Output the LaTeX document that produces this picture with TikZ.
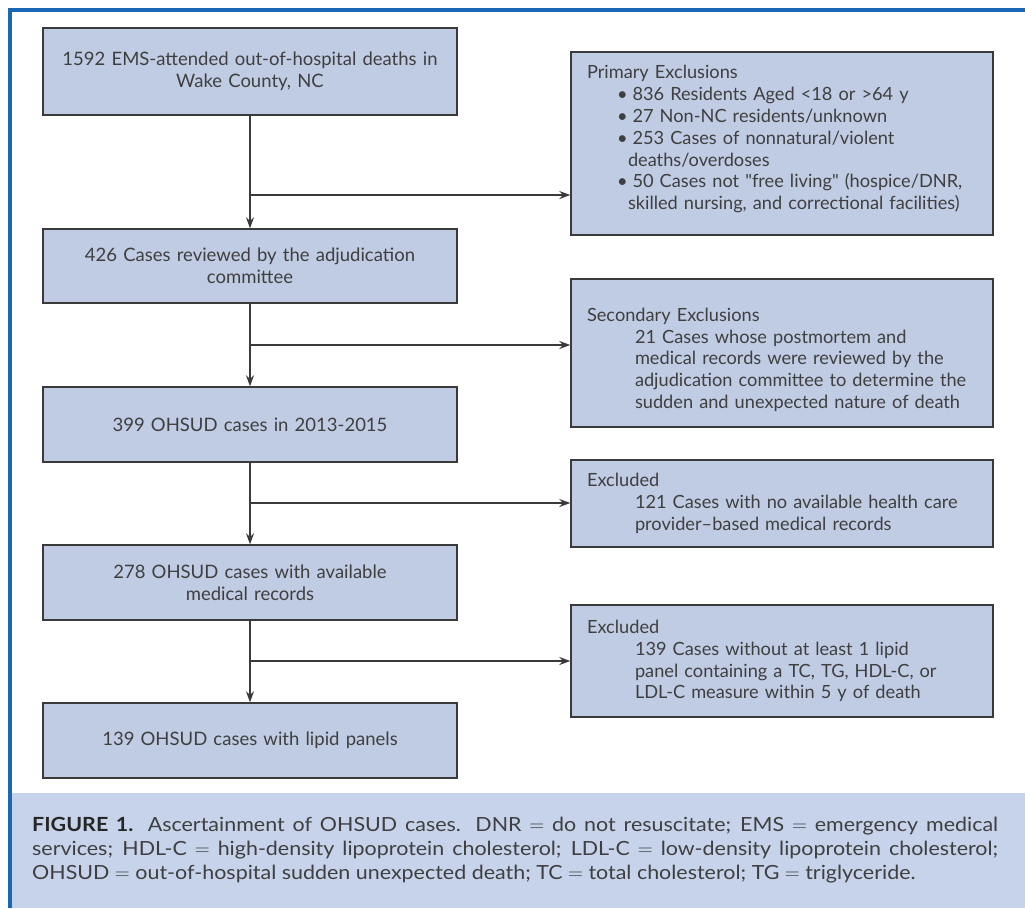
\documentclass[tikz,border=0pt]{standalone}
\usepackage{fontspec}
\setmainfont{Lato}
\newfontfamily\capfont[FakeStretch=1.1]{Lato}
\newfontfamily\rawfont[Ligatures=TeXOff]{Lato}
\usetikzlibrary{arrows.meta}
\definecolor{boxfill}{HTML}{C0CCE3}
\definecolor{capfill}{HTML}{C6D3EA}
\definecolor{frameblue}{HTML}{1A68B4}
\definecolor{txt}{HTML}{3F3F3F}
\definecolor{edge}{HTML}{3A3A3A}
\newcommand\myind[1]{\leavevmode\hbox to #1{\hfil}}
\newcommand\sq{{\rawfont"}}
\begin{document}
\begin{tikzpicture}[x=1pt,y=-1pt,
  flowbox/.style={draw=edge, line width=1.4pt, fill=boxfill, text=txt,
    font=\fontsize{18.5}{22}\selectfont, align=center, inner xsep=7pt, inner ysep=0pt,
    text width=400pt},
  exbox/.style={draw=edge, line width=1.4pt, fill=boxfill, text=txt,
    font=\fontsize{18.2}{21.8}\selectfont, align=left, inner xsep=16pt, inner ysep=0pt,
    text width=390pt},
  conn/.style={draw=edge, line width=1.3pt},
  arr/.style={conn, -{Stealth[length=11pt,width=8pt]}}]
\useasboundingbox (0,0) rectangle (1025,908);
\fill[white] (0,0) rectangle (1025,908);
\fill[capfill] (12,793) rectangle (1025,908);
\draw[frameblue, line width=4pt] (10.3,908) -- (10.3,10) -- (1025,10);

% main column
\node[flowbox, minimum height=87pt] (b1) at (250,71.5)
  {1592 EMS-attended out-of-hospital deaths in\\Wake County, NC};
\node[flowbox, minimum height=74pt] (b2) at (250,266)
  {426 Cases reviewed by the adjudication\\committee};
\node[flowbox, minimum height=75pt] (b3) at (250,424.5)
  {399 OHSUD cases in 2013-2015};
\node[flowbox, minimum height=75pt] (b4) at (250,582.5)
  {278 OHSUD cases with available\\medical records};
\node[flowbox, minimum height=75pt] (b5) at (250,740.5)
  {139 OHSUD cases with lipid panels};

% exclusion boxes
\node[exbox, minimum height=183pt] (p1) at (782,143.5)
  {Primary Exclusions\\
   \myind{30pt}\textbullet\hspace{5pt}836 Residents Aged <18 or >64 y\\
   \myind{30pt}\textbullet\hspace{5pt}27 Non-NC residents/unknown\\
   \myind{30pt}\textbullet\hspace{5pt}253 Cases of nonnatural/violent\\
   \myind{41pt}deaths/overdoses\\
   \myind{30pt}\textbullet\hspace{5pt}50 Cases not \sq free living\sq\ (hospice/DNR,\\
   \myind{41pt}skilled nursing, and correctional facilities)\\[-10pt]\mbox{}};
\node[exbox, minimum height=148pt] (p2) at (782,353)
  {\rule{0pt}{27pt}Secondary Exclusions\\
   \myind{48pt}21 Cases whose postmortem and\\
   \myind{48pt}medical records were reviewed by the\\
   \myind{48pt}adjudication committee to determine the\\
   \myind{48pt}sudden and unexpected nature of death};
\node[exbox, minimum height=87pt] (p3) at (782,503.5)
  {Excluded\\
   \myind{48pt}121 Cases with no available health care\\
   \myind{48pt}provider--based medical records};
\node[exbox, minimum height=112pt] (p4) at (782,661)
  {Excluded\\
   \myind{48pt}139 Cases without at least 1 lipid\\
   \myind{48pt}panel containing a TC, TG, HDL-C, or\\
   \myind{48pt}LDL-C measure within 5 y of death};

% connectors
\coordinate (j1) at (250,195);
\coordinate (j2) at (250,345);
\coordinate (j3) at (250,503);
\coordinate (j4) at (250,661);
\draw[arr] (b1) -- (b2);
\draw[arr] (b2) -- (b3);
\draw[arr] (b3) -- (b4);
\draw[arr] (b4) -- (b5);
\draw[arr] (j1) -- (p1.west |- j1);
\draw[arr] (j2) -- (p2.west |- j2);
\draw[arr] (j3) -- (p3.west |- j3);
\draw[arr] (j4) -- (p4.west |- j4);

% caption
\node[anchor=north west, text width=966pt, align=justify, inner sep=0pt, text=txt,
  font=\capfont\fontsize{19.5}{24}\selectfont] (cap) at (32,817)
  {\textbf{\color{black!85}FIGURE 1.} Ascertainment of OHSUD cases. DNR $=$ do not resuscitate; EMS $=$ emergency medical\linebreak
   services; HDL-C $=$ high-density lipoprotein cholesterol; LDL-C $=$ low-density lipoprotein cholesterol;\linebreak
   OHSUD $=$ out-of-hospital sudden unexpected death; TC $=$ total cholesterol; TG $=$ triglyceride.};
\end{tikzpicture}
\end{document}
